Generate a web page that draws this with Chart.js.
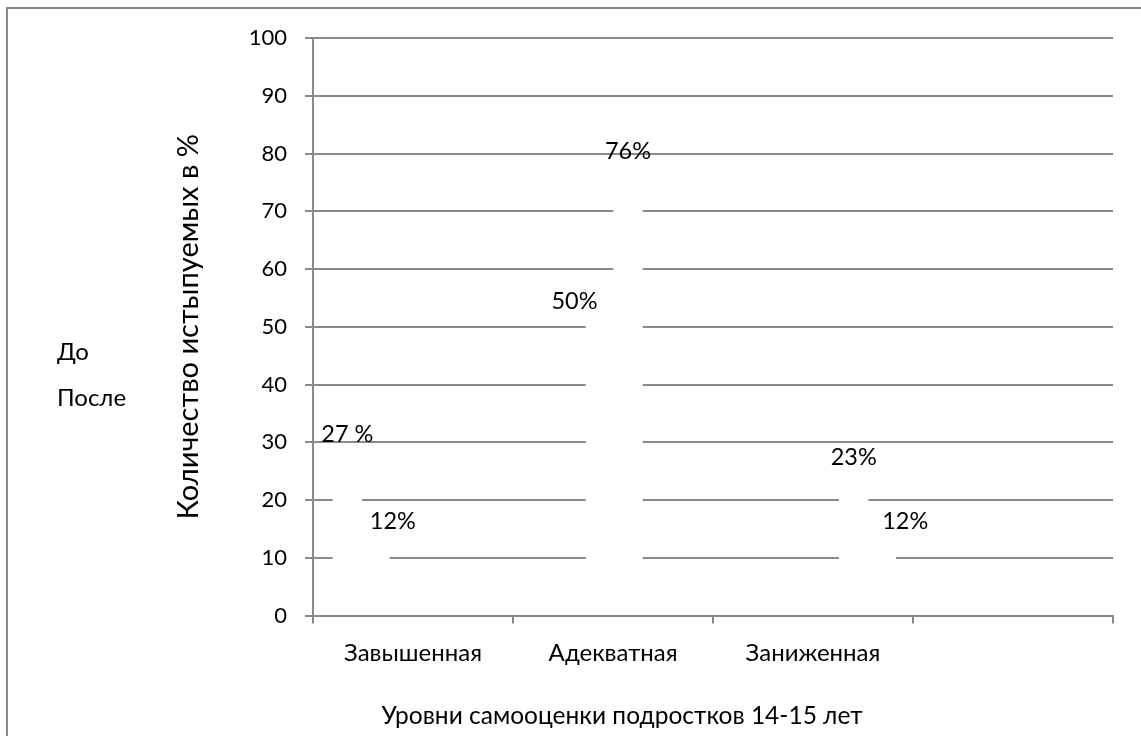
<!DOCTYPE html>
<html>
<head>
<meta charset="utf-8">
<script src="https://cdn.jsdelivr.net/npm/chart.js@4.4.1/dist/chart.umd.min.js"></script>
<style>
  html, body { margin: 0; padding: 0; background: #fff; }
</style>
</head>
<body>
<canvas id="chart" width="1141" height="736"></canvas>
<script>
// data
const categories = ['Завышенная', 'Адекватная', 'Заниженная', ''];
const seriesNames = ['До', 'После'];
const beforeValues = [27, 50, 23];
const afterValues = [12, 76, 12];
const beforeLabels = ['27 %', '50%', '23%'];
const afterLabels = ['12%', '76%', '12%'];

const lineGray = '#8a8a8a';
const textColor = '#000';
Chart.defaults.font.family = 'Lato, "Open Sans", sans-serif';
Chart.defaults.color = textColor;

// the grey frame, only top and left edges show in the picture
const framePlugin = {
    id: 'frame',
    beforeDraw(chart) {
        const ctx = chart.ctx;
        ctx.save();
        ctx.fillStyle = '#fff';
        ctx.fillRect(0, 0, chart.width, chart.height);
        ctx.strokeStyle = lineGray;
        ctx.lineWidth = 2;
        ctx.beginPath();
        ctx.moveTo(7, chart.height);
        ctx.lineTo(7, 8);
        ctx.lineTo(chart.width, 8);
        ctx.stroke();
        ctx.restore();
    }
};

// value labels above each bar; a few were dragged sideways in the original
const valueLabels = {
    id: 'valueLabels',
    afterDatasetsDraw(chart, args, opts) {
        const ctx = chart.ctx;
        const texts = [beforeLabels, afterLabels];
        ctx.save();
        ctx.font = '23.5px Lato';
        ctx.fillStyle = textColor;
        ctx.textAlign = 'center';
        ctx.textBaseline = 'middle';
        chart.data.datasets.forEach((ds, d) => {
            chart.getDatasetMeta(d).data.forEach((bar, i) => {
                const dx = opts.nudge[d][i];
                ctx.fillText(texts[d][i], bar.x + dx, bar.y - 25);
            });
        });
        ctx.restore();
    }
};

// legend text only (the markers are white)
const sideLegend = {
    id: 'sideLegend',
    afterDraw(chart) {
        const ctx = chart.ctx;
        ctx.save();
        ctx.font = '24px Lato';
        ctx.fillStyle = textColor;
        ctx.textAlign = 'left';
        ctx.textBaseline = 'middle';
        chart.data.datasets.forEach((ds, d) => {
            ctx.fillText(ds.label, 57, 352 + d * 46);
        });
        ctx.restore();
    }
};

const ctx = document.getElementById('chart').getContext('2d');

new Chart(ctx, {
    type: 'bar',
    data: {
        datasets: [
            {
                label: seriesNames[0],
                data: beforeValues.map((v, i) => ({ x: i, y: v })),
                backgroundColor: '#ffffff',
                xAxisID: 'xb'
            },
            {
                label: seriesNames[1],
                data: afterValues.map((v, i) => ({ x: i, y: v })),
                backgroundColor: '#ffffff',
                xAxisID: 'xb'
            }
        ]
    },
    options: {
        responsive: false,
        animation: false,
        barThickness: 27.5,
        inflateAmount: 1,
        layout: { padding: { left: 131, right: 28, top: 38, bottom: 0 } },
        plugins: {
            legend: { display: false },
            tooltip: { enabled: false },
            valueLabels: { nudge: [[0, -26, 0], [18, 0, 24]] },
            title: {
                display: true,
                position: 'bottom',
                text: 'Уровни самооценки подростков 14-15 лет',
                color: textColor,
                font: { size: 24.5, weight: 'normal' },
                padding: { top: 0, bottom: 5 }
            }
        },
        scales: {
            x: {
                type: 'category',
                labels: categories,
                offset: true,
                grid: {
                    offset: true,
                    z: 1,
                    drawOnChartArea: false,
                    drawTicks: true,
                    tickLength: 8,
                    color: lineGray,
                    lineWidth: 2
                },
                border: { display: true, z: 1, color: lineGray, width: 2 },
                ticks: { font: { size: 24 }, padding: 15, maxRotation: 0 },
                afterFit(scale) { scale.height = 86; }
            },
            // hidden axis that places the white bars (they sit off the label centres in the original)
            xb: {
                type: 'linear',
                display: false,
                offset: false,
                grid: { offset: false },
                min: -0.19,
                max: 2.97,
                ticks: { stepSize: 1, includeBounds: false }
            },
            y: {
                min: 0,
                max: 100,
                ticks: { stepSize: 10, font: { size: 22 }, padding: 18 },
                grid: { color: lineGray, lineWidth: 2, tickLength: 8 },
                border: { display: true, color: lineGray, width: 2 },
                title: {
                    display: true,
                    text: 'Количество истыпуемых в %',
                    font: { size: 29 },
                    padding: { top: 40, bottom: 0 }
                },
                afterFit(scale) { scale.width = 182; }
            }
        }
    },
    plugins: [framePlugin, valueLabels, sideLegend]
});
</script>
</body>
</html>
